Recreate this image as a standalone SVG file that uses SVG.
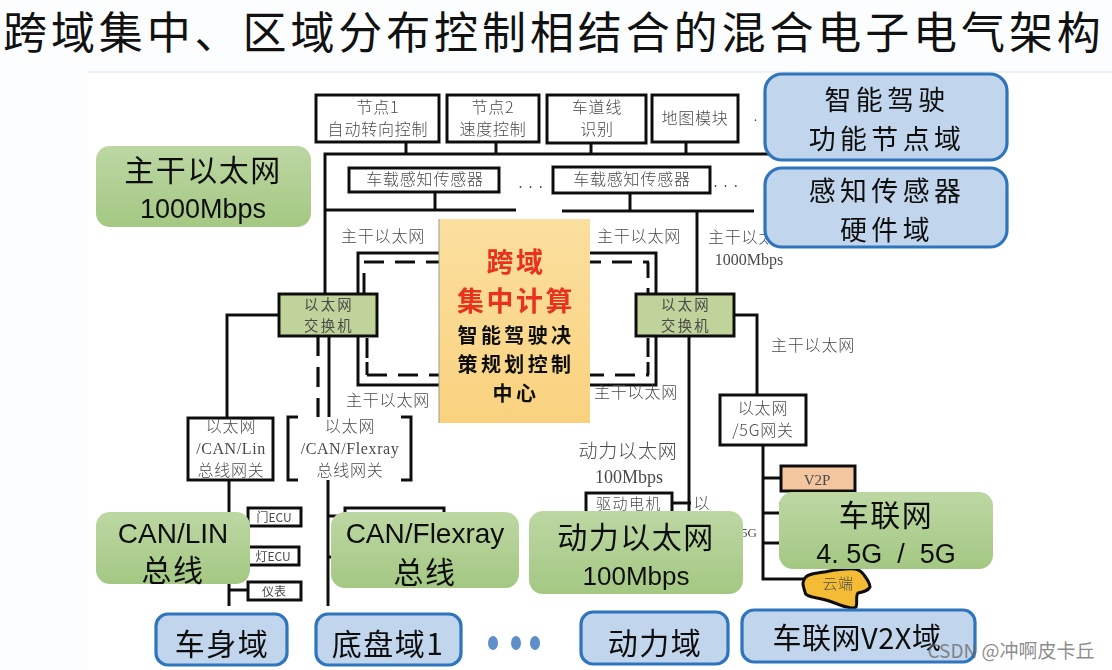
<svg xmlns="http://www.w3.org/2000/svg" width="1112" height="670" viewBox="0 0 1112 670">
<style>
text{font-family:"Noto Sans CJK SC","Noto Sans",sans-serif;text-anchor:middle}
.sm{font-size:16px;letter-spacing:.8px;fill:#4a4a4a;font-weight:300}
.sw-t{font-size:14.4px;letter-spacing:2.2px;fill:#4a4a4a}
.lat{font-family:"Liberation Serif","Noto Sans CJK SC",serif}
.big{font-size:30px;letter-spacing:1.5px;fill:#111}
.dom{font-size:26.9px;letter-spacing:4.4px;fill:#111}
.en{font-family:"Liberation Sans",sans-serif;fill:#111}
.cr{font-size:26.9px;font-weight:700;letter-spacing:2.6px;fill:#e8301f}
.cb{font-size:20px;font-weight:700;letter-spacing:3.4px;fill:#111}
.ec{font-size:12px;letter-spacing:0;fill:#4a4a4a}
.box{fill:#fff;stroke:#111;stroke-width:3}
.sw{fill:#c0d39a;stroke:#111;stroke-width:3}
.gr{fill:url(#g);stroke:none}
.bl{fill:#c1d5ec;stroke:#2f74bd;stroke-width:3.2}
.ln{fill:none;stroke:#111;stroke-width:3}
.da{fill:none;stroke:#111;stroke-width:3.2;stroke-dasharray:20 11}
</style>
<defs>
<linearGradient id="g" x1="0" y1="0" x2="0" y2="1"><stop offset="0" stop-color="#bdd7a3"/><stop offset="1" stop-color="#a4c883"/></linearGradient>
<linearGradient id="o" x1="0" y1="0" x2="0" y2="1"><stop offset="0" stop-color="#fbdf9f"/><stop offset="1" stop-color="#f9d27e"/></linearGradient>
<filter id="b" x="-2%" y="-2%" width="104%" height="104%"><feGaussianBlur stdDeviation="0.45"/></filter>
</defs>
<rect width="1112" height="670" fill="#fcfdff"/>
<rect x="87" y="72" width="1025" height="598" fill="#fff"/>
<rect x="87" y="71" width="1025" height="2" fill="#eef1f5"/>
<text x="3" y="49" style="font-size:44px;letter-spacing:3.9px;fill:#111;text-anchor:start">跨域集中、区域分布控制相结合的混合电子电气架构</text>
<g filter="url(#b)">
<g id="connectors">
<path class="ln" d="M325 294V154H770M406 142V154M496 142V154M591 142V154M686 142V154"/>
<path class="ln" d="M325 210H516M435 192V210M562 211H754M630 193V211M697 211V294"/>
<path class="ln" d="M358 294V253H656V294M358 336V385H656V336"/>
<path class="ln" d="M364 273V294M367 338V358"/>
<path class="da" d="M364 262H649"/>
<path class="da" d="M367 375H649"/>
<path class="ln" d="M367 362V375M648 262V278M648 288V294M648 338V357M648 362V375"/>
<path class="ln" d="M279 315H227V418M329 336V417M689 336V511M734 315H757V395"/>
<path class="da" d="M318 336V417"/>
<path class="ln" d="M229 480V606M248 590H229M328 480V606M328 516H340M328 557H340"/>
<path class="ln" d="M763 445V579H805M763 478H781M763 513H781M763 543H781M781 502V525M781 533V553M672 503H691"/>
</g>
<g id="node1"><rect class="box" x="316" y="95" width="123" height="47"/><text class="sm"><tspan x="378" y="113">节点1</tspan><tspan x="378" y="135">自动转向控制</tspan></text></g>
<g id="node2"><rect class="box" x="447" y="95" width="92" height="47"/><text class="sm"><tspan x="493" y="113">节点2</tspan><tspan x="493" y="135">速度控制</tspan></text></g>
<g id="lane"><rect class="box" x="547" y="95" width="99" height="48"/><text class="sm"><tspan x="597" y="113">车道线</tspan><tspan x="597" y="135">识别</tspan></text></g>
<g id="map"><rect class="box" x="652" y="95" width="86" height="47"/><text class="sm" x="695" y="124">地图模块</text></g>
<text class="sm" x="756" y="121">.</text>
<g id="sensor1"><rect class="box" x="349" y="168" width="150" height="24"/><text class="sm" x="425" y="185">车载感知传感器</text></g>
<text class="sm" x="531" y="188" style="font-size:18px">. . .</text>
<g id="sensor2"><rect class="box" x="553" y="167" width="157" height="26"/><text class="sm" x="632" y="185">车载感知传感器</text></g>
<text class="sm" x="726" y="187" style="font-size:18px">. . .</text>
<text class="sm" x="383" y="242">主干以太网</text>
<text class="sm" x="639" y="242">主干以太网</text>
<text class="sm" x="750" y="243">主干以太网</text>
<text class="sm lat" x="749" y="265" style="font-size:16px;letter-spacing:0">1000Mbps</text>
<text class="sm" x="813" y="351">主干以太网</text>
<text class="sm" x="388" y="406">主干以太网</text>
<text class="sm" x="636" y="398">主干以太网</text>
<text class="sm" x="628" y="458" style="font-size:19px">动力以太网</text>
<text class="sm lat" x="629" y="483" style="font-size:18px;letter-spacing:0">100Mbps</text>
<g id="switch-l"><rect class="sw" x="279" y="294" width="98" height="42"/><text class="sw-t"><tspan x="329" y="310">以太网</tspan><tspan x="329" y="331">交换机</tspan></text></g>
<g id="switch-r"><rect class="sw" x="636" y="294" width="98" height="42"/><text class="sw-t"><tspan x="686" y="310">以太网</tspan><tspan x="686" y="331">交换机</tspan></text></g>
<g id="center"><rect x="439" y="219" width="151" height="204" fill="url(#o)"/><path d="M439 219V423" stroke="#999" stroke-width="1"/><text class="cr"><tspan x="516" y="272">跨域</tspan><tspan x="516" y="311">集中计算</tspan></text><text class="cb"><tspan x="516" y="343">智能驾驶决</tspan><tspan x="516" y="372">策规划控制</tspan><tspan x="516" y="401">中心</tspan></text></g>
<g id="gw1"><rect class="box" x="188" y="418" width="85" height="62"/><text class="sm"><tspan x="231" y="432">以太网</tspan><tspan class="lat" x="231" y="454" style="letter-spacing:.6px">/CAN/Lin</tspan><tspan x="231" y="476">总线网关</tspan></text></g>
<g id="gw2"><rect x="288" y="417" width="123" height="63" fill="#fff"/><path class="ln" d="M298 417H288V480H298M401 417H411V480H401"/><text class="sm"><tspan x="350" y="432">以太网</tspan><tspan class="lat" x="350" y="454" style="letter-spacing:.6px">/CAN/Flexray</tspan><tspan x="350" y="476">总线网关</tspan></text></g>
<g id="gw3"><rect class="box" x="720" y="395" width="86" height="50"/><text class="sm"><tspan x="763" y="414">以太网</tspan><tspan x="763" y="436">/5G网关</tspan></text></g>
<g id="ecu1"><rect class="box" x="248" y="508" width="53" height="18"/><text class="ec" x="274" y="522">门ECU</text></g>
<g id="ecu2"><rect class="box" x="248" y="547" width="51" height="18"/><text class="ec" x="273" y="561">灯ECU</text></g>
<g id="ecu3"><rect class="box" x="248" y="582" width="53" height="18"/><text class="ec" x="274" y="596">仪表</text></g>
<g id="ecu4"><rect class="box" x="345" y="508" width="99" height="30"/></g>
<g id="motor"><rect class="box" x="586" y="493" width="86" height="30"/><text class="sm" x="629" y="509" style="font-size:15px;letter-spacing:1.5px">驱动电机</text></g>
<text class="sm" x="702" y="509">以</text>
<text class="sm lat" x="749" y="537" style="font-size:13px;letter-spacing:0">5G</text>
<g id="v2p"><rect class="box" x="781" y="466" width="74" height="25" style="fill:#f4c6a0"/><text class="sm lat" x="817" y="485" style="font-size:15px;letter-spacing:0">V2P</text></g>
<g id="cloud"><path d="M803 583C804 578 806 576 809 575C814 573 819 573 824 572C835 570 845 568 855 569C860 570 862 572 864 575C867 579 870 583 870 587C868 591 863 592 858 593C855 597 858 603 856 607C853 609 850 608 847 607C842 606 837 604 832 602C827 600 822 599 817 598C812 597 805 596 805 592C804 589 803 586 803 583Z" fill="#f4bc36" stroke="#111" stroke-width="3"/><text class="sm" x="838" y="589" style="font-size:15px;letter-spacing:.5px">云端</text></g>
<g id="g-backbone"><rect class="gr" x="96" y="146" width="215" height="81" rx="14"/><text class="big" x="203" y="181">主干以太网</text><text class="en" x="203" y="218" style="font-size:27px">1000Mbps</text></g>
<g id="g-canlin"><rect class="gr" x="96" y="512" width="154" height="72" rx="14"/><text class="en" x="173" y="543" style="font-size:28px">CAN/LIN</text><text class="big" x="173" y="581">总线</text></g>
<g id="g-flex"><rect class="gr" x="331" y="512" width="188" height="76" rx="14"/><text class="en" x="425" y="543" style="font-size:28px">CAN/Flexray</text><text class="big" x="425" y="583">总线</text></g>
<g id="g-power"><rect class="gr" x="529" y="511" width="214" height="83" rx="14"/><text class="big" x="636" y="548">动力以太网</text><text class="en" x="636" y="585" style="font-size:26px">100Mbps</text></g>
<g id="g-v2x"><rect class="gr" x="779" y="492" width="214" height="77" rx="14"/><text class="big" x="886" y="526">车联网</text><text class="en" x="886" y="563" xml:space="preserve" style="font-size:27px;white-space:pre">4. 5G  /  5G</text></g>
<g id="d-adas"><rect class="bl" x="765" y="74" width="242" height="86" rx="17"/><text class="dom"><tspan x="887" y="110">智能驾驶</tspan><tspan x="887" y="149">功能节点域</tspan></text></g>
<g id="d-sensor"><rect class="bl" x="765" y="168" width="242" height="79" rx="17"/><text class="dom"><tspan x="887" y="201">感知传感器</tspan><tspan x="887" y="240">硬件域</tspan></text></g>
<g id="d-body"><rect class="bl" x="156" y="614" width="131" height="51" rx="12"/><text class="big" x="222" y="655">车身域</text></g>
<g id="d-chassis"><rect class="bl" x="316" y="614" width="145" height="51" rx="12"/><text class="big" x="388" y="655">底盘域1</text></g>
<g id="d-power"><rect class="bl" x="581" y="612" width="147" height="52" rx="12"/><text class="big" x="655" y="654">动力域</text></g>
<g id="d-v2x"><rect class="bl" x="742" y="610" width="233" height="52" rx="12"/><text class="big" x="857" y="649" style="font-size:29px;letter-spacing:.5px">车联网V2X域</text></g>
<g id="dots" fill="#5f8fc8"><ellipse cx="493" cy="643" rx="5" ry="7"/><ellipse cx="516" cy="643" rx="5" ry="7"/><ellipse cx="535" cy="643" rx="5" ry="7"/></g>
</g>
<text x="1011" y="658" style="font-size:19px;fill:#666;fill-opacity:.75">CSDN @冲啊皮卡丘</text>
</svg>
